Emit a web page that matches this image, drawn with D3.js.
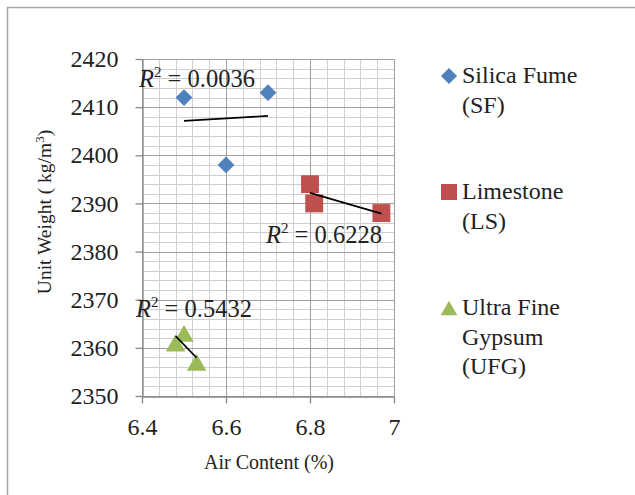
<!DOCTYPE html>
<html lang="en">
<head>
<meta charset="UTF-8">
<title>Unit Weight vs Air Content</title>
<script src="https://cdn.jsdelivr.net/npm/d3@7"></script>
<style>
    body { margin: 0; background: #fff; }
    svg text { font-family: "Liberation Serif", "Times New Roman", serif !important; fill: #222; }
</style>
</head>
<body>
<div id="fig"></div>
<script>
    // series values
    const sfAir = [6.5, 6.6, 6.7]
    const sfWeight = [2412, 2398, 2413]
    const lsAir = [6.8, 6.81, 6.97]
    const lsWeight = [2394, 2390, 2388]
    const ufgAir = [6.48, 6.5, 6.53]
    const ufgWeight = [2361, 2363, 2357]

    const seriesNames = [["Silica Fume", "(SF)"], ["Limestone", "(LS)"], ["Ultra Fine", "Gypsum", "(UFG)"]]
    const rSquared = ["0.0036", "0.6228", "0.5432"]

    const xTicks = [6.4, 6.6, 6.8, 7]
    const yTicks = [2350, 2360, 2370, 2380, 2390, 2400, 2410, 2420]
    const xMinorStep = 0.04
    const yMinorStep = 2

    const W = 635, H = 495
    const svg = d3.select("#fig").append("svg")
        .attr("width", W).attr("height", H)

    // outer frame (cut off at right and bottom)
    svg.append("path")
        .attr("d", `M7.5,${H} V7.5 H${W}`)
        .attr("fill", "none").attr("stroke", "#a6a6a6").attr("stroke-width", 1.5)

    const x = d3.scaleLinear().domain([6.4, 7]).range([142, 394])
    const y = d3.scaleLinear().domain([2350, 2420]).range([396, 59])

    const grid = svg.append("g")
    const xMinor = d3.range(6.4, 7.0001, xMinorStep)
    const yMinor = d3.range(2350, 2420.001, yMinorStep)
    grid.selectAll(".vmin").data(xMinor).enter().append("line")
        .attr("x1", d => Math.round(x(d)) + 0.5).attr("x2", d => Math.round(x(d)) + 0.5)
        .attr("y1", y(2350)).attr("y2", y(2420))
        .attr("stroke", "#cfcfcf")
    grid.selectAll(".hmin").data(yMinor).enter().append("line")
        .attr("y1", d => Math.round(y(d)) + 0.5).attr("y2", d => Math.round(y(d)) + 0.5)
        .attr("x1", x(6.4)).attr("x2", x(7))
        .attr("stroke", "#cfcfcf")
    grid.selectAll(".vmaj").data(xTicks).enter().append("line")
        .attr("x1", d => Math.round(x(d)) + 0.5).attr("x2", d => Math.round(x(d)) + 0.5)
        .attr("y1", y(2350)).attr("y2", y(2420))
        .attr("stroke", "#a0a0a0")
    grid.selectAll(".hmaj").data(yTicks).enter().append("line")
        .attr("y1", d => Math.round(y(d)) + 0.5).attr("y2", d => Math.round(y(d)) + 0.5)
        .attr("x1", x(6.4)).attr("x2", x(7))
        .attr("stroke", "#a0a0a0")

    // axes
    svg.append("g")
        .attr("transform", `translate(${Math.round(x(6.4)) + 0.5},0)`)
        .call(d3.axisLeft(y).tickValues(yTicks).tickSizeInner(7).tickSizeOuter(0).tickPadding(17)
            .tickFormat(d3.format("d")))
    svg.append("g")
        .attr("transform", `translate(0,${Math.round(y(2350)) + 0.5})`)
        .call(d3.axisBottom(x).tickValues(xTicks).tickSizeInner(7).tickSizeOuter(0).tickPadding(14)
            .tickFormat(d3.format("")))
    svg.selectAll(".domain, .tick line").attr("stroke", "#888").attr("stroke-width", 1.3)
    svg.selectAll(".tick text").style("font-size", "24px").attr("fill", "#222")

    svg.append("text")
        .attr("x", 269).attr("y", 469)
        .attr("text-anchor", "middle").style("font-size", "20px")
        .text("Air Content (%)")
    const yTitle = svg.append("text")
        .attr("transform", "translate(51,212) rotate(-90)")
        .attr("text-anchor", "middle").style("font-size", "19.5px")
    yTitle.append("tspan").text("Unit Weight ( kg/m")
    yTitle.append("tspan").attr("dy", -7).style("font-size", "13px").text("3")
    yTitle.append("tspan").attr("dy", 7).text(")")

    // triangle centred on its bounding box, like the spreadsheet marker
    const boxTriangle = {
        draw(ctx, size) {
            const w = Math.sqrt(size * 4 / Math.sqrt(3)), h = w * Math.sqrt(3) / 2
            ctx.moveTo(0, -h / 2)
            ctx.lineTo(w / 2, h / 2)
            ctx.lineTo(-w / 2, h / 2)
            ctx.closePath()
        }
    }

    const colors = ["#4f81bd", "#c0504d", "#9bbb59"]
    const symbols = [
        d3.symbol().type(d3.symbolSquare).size(140),
        d3.symbol().type(d3.symbolSquare).size(320),
        d3.symbol().type(boxTriangle).size(165)
    ]
    const legendSymbols = [
        d3.symbol().type(d3.symbolSquare).size(130),
        d3.symbol().type(d3.symbolSquare).size(256),
        d3.symbol().type(boxTriangle).size(120)
    ]
    const rotations = [45, 0, 0]
    const series = [
        sfAir.map((a, i) => ({air: a, w: sfWeight[i]})),
        lsAir.map((a, i) => ({air: a, w: lsWeight[i]})),
        ufgAir.map((a, i) => ({air: a, w: ufgWeight[i]}))
    ]

    // least squares trend line over each series' range
    function trend(pts) {
        const mx = d3.mean(pts, d => d.air), my = d3.mean(pts, d => d.w)
        const sxy = d3.sum(pts, d => (d.air - mx) * (d.w - my))
        const sxx = d3.sum(pts, d => (d.air - mx) ** 2)
        const b = sxy / sxx
        const [x0, x1] = d3.extent(pts, d => d.air)
        return [[x0, my + b * (x0 - mx)], [x1, my + b * (x1 - mx)]]
    }

    series.forEach((pts, s) => {
        svg.append("g").selectAll("path").data(pts).enter().append("path")
            .attr("d", symbols[s])
            .attr("transform", d => `translate(${x(d.air)},${y(d.w)}) rotate(${rotations[s]})`)
            .attr("fill", colors[s])
    })
    series.forEach(pts => {
        const t = trend(pts)
        svg.append("line")
            .attr("x1", x(t[0][0])).attr("y1", y(t[0][1]))
            .attr("x2", x(t[1][0])).attr("y2", y(t[1][1]))
            .attr("stroke", "#000").attr("stroke-width", 1.7)
    })

    // R² labels
    const labelPos = [[139, 87], [266, 243], [136, 317]]
    rSquared.forEach((r, i) => {
        const t = svg.append("text")
            .attr("x", labelPos[i][0]).attr("y", labelPos[i][1])
            .style("font-size", "24.5px")
        t.append("tspan").style("font-style", "italic").text("R")
        t.append("tspan").attr("dy", -10).style("font-size", "15px").text("2")
        t.append("tspan").attr("dy", 10).text(" = " + r)
    })

    // legend
    const legendTop = [76, 192, 308]
    const legend = svg.append("g")
    seriesNames.forEach((lines, i) => {
        legend.append("path")
            .attr("d", legendSymbols[i])
            .attr("transform", `translate(449,${legendTop[i]}) rotate(${rotations[i]})`)
            .attr("fill", colors[i])
        lines.forEach((ln, j) => {
            legend.append("text")
                .attr("x", 462).attr("y", legendTop[i] + 7 + j * 29.5)
                .style("font-size", "24px")
                .text(ln)
        })
    })
</script>
</body>
</html>
